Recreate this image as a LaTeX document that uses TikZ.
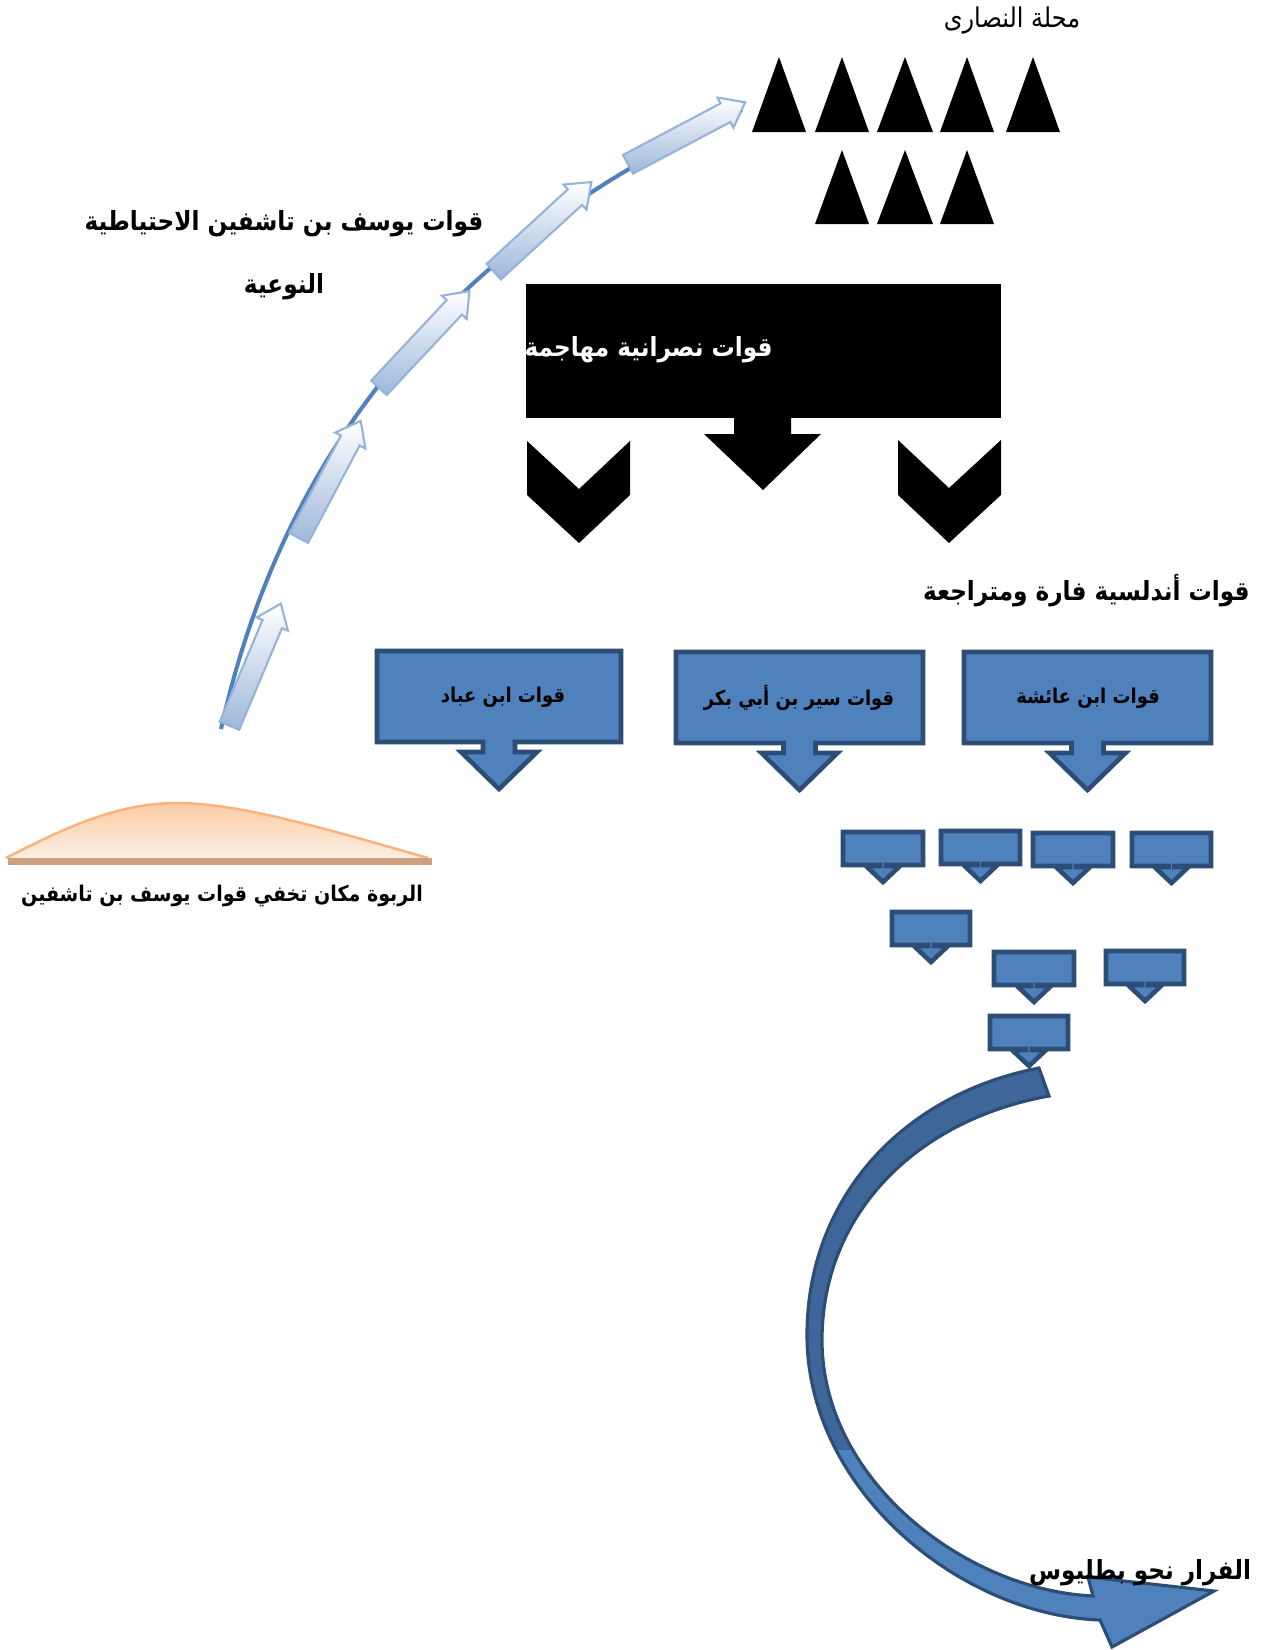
\documentclass[tikz,border=0pt]{standalone}
\usepackage{fontspec}
\newfontfamily\arabicfont[Script=Arabic, FakeStretch=0.88]{DejaVu Sans}
\TeXXeTstate=1
\usetikzlibrary{shapes.arrows}
\newcommand{\ar}[1]{\beginR #1\endR}

\definecolor{boxblue}{HTML}{4F81BD}
\definecolor{boxedge}{HTML}{2C4D75}
\definecolor{darkband}{HTML}{3E6699}
\definecolor{arrowedge}{HTML}{95B3D7}
\definecolor{arrowfill}{HTML}{9DB7DA}
\definecolor{hillline}{HTML}{FAB27A}
\definecolor{hilltop}{HTML}{FBCDA6}
\definecolor{hillpale}{HTML}{FDEEE2}
\definecolor{hillbase}{HTML}{CFA080}

\tikzset{
  artext/.style={font=\arabicfont\bfseries\fontsize{15}{18}\selectfont, inner sep=0pt},
  hilltext/.style={font=\arabicfont\bfseries\fontsize{12.3}{15}\selectfont, inner sep=0pt},
  plaintext/.style={font=\arabicfont\fontsize{15.5}{18}\selectfont, inner sep=0pt},
  boxtext/.style={font=\arabicfont\bfseries\fontsize{11.6}{14}\selectfont, inner sep=0pt},
  whitetext/.style={font=\arabicfont\bfseries\fontsize{15}{18}\selectfont, text=white, inner sep=0pt},
  calloutshape/.style={fill=boxblue, draw=boxedge, line width=2.6pt, line join=miter},
  reservearrow/.style={single arrow, draw=arrowedge, line width=1.2pt, top color=white, bottom color=arrowfill, single arrow head extend=0.13cm, single arrow tip angle=75, minimum height=2.65cm, inner sep=0pt, sloped},
  attackbox/.style={fill=black, minimum width=9.5cm, minimum height=2.68cm, inner sep=0pt}
}

% box with a down arrow: left, top, right, bottom, shaft, shaft length, head, head length
\newcommand{\calloutbox}[8]{%
  \pgfmathsetmacro{\callx}{(#1+#3)/2}%
  \draw[calloutshape] (#1,#2) -- (#3,#2) -- (#3,#4) -- (\callx+#5,#4) -- (\callx+#5,#4+#6) -- (\callx+#7,#4+#6) -- (\callx,#4+#6+#8) -- (\callx-#7,#4+#6) -- (\callx-#5,#4+#6) -- (\callx-#5,#4) -- (#1,#4) -- cycle;}

\begin{document}
\begin{tikzpicture}[x=0.02cm, y=-0.02cm]
            \useasboundingbox (0,0) rectangle (1265,1650);

            % Christian camp
            \node (nasara) [plaintext] at (1012,20) {\ar{محلة النصارى}};
            \fill (752,132) -- (779,57) -- (806,132) -- cycle;
            \fill (815,132) -- (842,57) -- (869,132) -- cycle;
            \fill (877,132) -- (905,57) -- (933,132) -- cycle;
            \fill (940,132) -- (967,57) -- (994,132) -- cycle;
            \fill (1006,132) -- (1033,57) -- (1060,132) -- cycle;
            \fill (815,224) -- (842,150) -- (869,224) -- cycle;
            \fill (877,224) -- (905,150) -- (933,224) -- cycle;
            \fill (940,224) -- (967,150) -- (994,224) -- cycle;

            % Attacking forces
            \node (attack) [attackbox] at (763.5,351) {};
            \begin{scope}
              \clip (attack.south west) rectangle (attack.north east);
              \node (attacktxt) [whitetext, anchor=east] at (773,350) {\ar{قوات نصرانية مهاجمة}};
            \end{scope}
            \fill (734,418) -- (791,418) -- (791,434) -- (821,434) -- (763,490) -- (704,434) -- (734,434) -- cycle;
            \fill (527,441) -- (579,489) -- (630,441) -- (630,495) -- (579,543) -- (527,495) -- cycle;
            \fill (898,440) -- (949,488) -- (1001,440) -- (1001,495) -- (949,543) -- (898,495) -- cycle;

            % Andalusian forces
            \node (andalus) [artext, anchor=east] at (1250,591) {\ar{قوات أندلسية فارة ومتراجعة}};
            \calloutbox{377}{651}{621}{742}{16}{10}{38}{37}
            \calloutbox{676}{652}{923}{743}{16}{10}{38}{37}
            \calloutbox{964}{652}{1211}{743}{16}{10}{38}{37}
            \node (abbad) [boxtext] at (503,697) {\ar{قوات ابن عباد}};
            \node (sir) [boxtext] at (799,698) {\ar{قوات سير بن أبي بكر}};
            \node (aisha) [boxtext] at (1088,698) {\ar{قوات ابن عائشة}};

            % Scattered units
            \calloutbox{843}{832}{923}{865}{3}{1}{17}{16}
            \calloutbox{941}{831}{1020}{864}{3}{1}{17}{16}
            \calloutbox{1033}{833}{1113}{866}{3}{1}{17}{16}
            \calloutbox{1132}{833}{1211}{866}{3}{1}{17}{16}
            \calloutbox{892}{912}{970}{945}{3}{1}{17}{16}
            \calloutbox{994}{952}{1074}{985}{3}{1}{17}{16}
            \calloutbox{1106}{951}{1184}{984}{3}{1}{17}{16}
            \calloutbox{990}{1016}{1068}{1049}{3}{1}{17}{16}

            % Flight
            \path[fill=boxblue, draw=boxedge, line width=1.8pt, line join=miter,
              path picture={\fill[darkband] (0,0) rectangle (1265,1450);}]
              (1039,1068) .. controls (900,1095) and (807,1200) .. (807,1335)
              .. controls (807,1490) and (960,1615) .. (1100,1620)
              -- (1112,1647) -- (1214,1591) -- (1088,1577) -- (1093,1596)
              .. controls (965,1590) and (822,1480) .. (822,1340)
              .. controls (822,1215) and (915,1120) .. (1049,1096) -- cycle;
            \node (flee) [artext] at (1140,1573) {\ar{الفرار نحو بطليوس}};

            % Hill
            \fill[top color=hilltop, bottom color=hillpale] (6,858) .. controls (70,825) and (120,803) .. (177,803) .. controls (240,803) and (330,830) .. (428,858) -- cycle;
            \draw[hillline, line width=1.4pt] (6,858) .. controls (70,825) and (120,803) .. (177,803) .. controls (240,803) and (330,830) .. (428,858);
            \fill[hillbase] (8,858) rectangle (432,865);
            \node (hilltxt) [hilltext] at (222,896) {\ar{الربوة مكان تخفي قوات يوسف بن تاشفين}};

            % Reserve forces
            \draw[boxblue, line width=2.3pt] (221,729) .. controls (290,420) and (480,230) .. (742,110);
            \path (226,734) -- node (r1) [reservearrow] {\rule{0pt}{0.38cm}} (279,608);
            \path (295,545) -- node (r2) [reservearrow] {\rule{0pt}{0.38cm}} (358,426);
            \path (376,391) -- node (r3) [reservearrow] {\rule{0pt}{0.38cm}} (463,298);
            \path (489,276) -- node (r4) [reservearrow] {\rule{0pt}{0.38cm}} (586,187);
            \path (621,168) -- node (r5) [reservearrow] {\rule{0pt}{0.38cm}} (740,105);
            \node (reserve) [artext, align=center] at (284,255) {\ar{قوات يوسف بن تاشفين الاحتياطية}\\[18pt]\ar{النوعية}};
\end{tikzpicture}
\end{document}
